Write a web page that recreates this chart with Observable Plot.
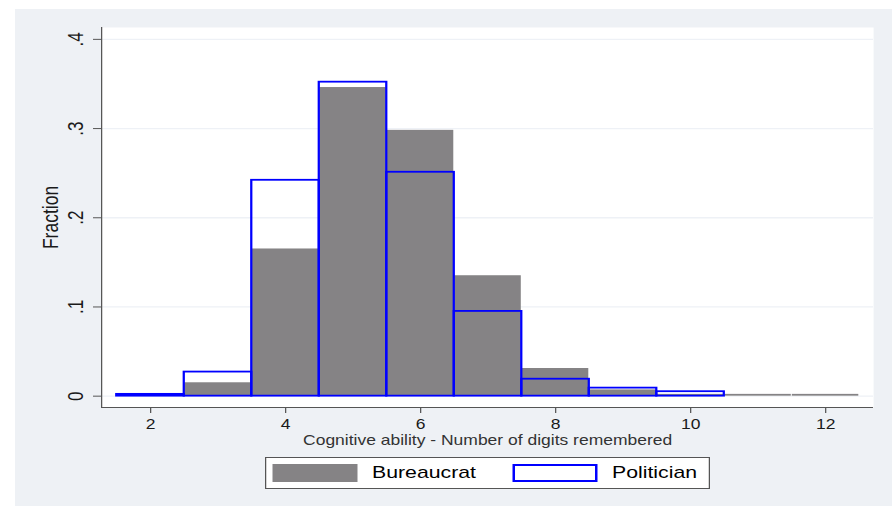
<!DOCTYPE html>
<html><head><meta charset="utf-8">
<script src="https://cdn.jsdelivr.net/npm/d3@7"></script>
<script src="https://cdn.jsdelivr.net/npm/@observablehq/plot@0.6"></script>
<style>
body{margin:0;background:#fff;}
#wrap{position:relative;width:713.6px;height:506px;transform:scaleX(1.25);transform-origin:0 0;font-family:"Liberation Sans",Arial,sans-serif;}
#panel{position:absolute;left:12px;top:9px;width:701.6px;height:497px;background:#eef1f5;}
#chart{position:absolute;left:0;top:0;}
#lgbox{position:absolute;left:212px;top:457px;width:356px;height:32px;box-sizing:border-box;border:1px solid #555;background:#fff;}
.sw{position:absolute;top:464px;width:67.2px;height:18px;box-sizing:border-box;}
.lt{position:absolute;top:464px;font-size:17px;line-height:18px;color:#000;white-space:nowrap;}
</style></head><body>
<div id="wrap"><div id="panel"></div><div id="chart"></div><div id="lgbox"></div></div>
<script>
const digits = [2, 3, 4, 5, 6, 7, 8, 9, 10, 11, 12];
const bureaucrat = [0.001, 0.015, 0.165, 0.346, 0.298, 0.135, 0.031, 0.007, 0.002, 0.002, 0.002];
const politician = [0.002, 0.027, 0.242, 0.352, 0.251, 0.095, 0.019, 0.009, 0.005, 0, 0];
const seriesNames = ["Bureaucrat", "Politician"];
const xTicks = [2, 4, 6, 8, 10, 12];
const yTicks = [0, 0.1, 0.2, 0.3, 0.4];
const yTickLabels = ["0", ".1", ".2", ".3", ".4"];
const xTitle = "Cognitive ability - Number of digits remembered";
const yTitle = "Fraction";

const gray = "#858385", blue = "#0000ff";
const rows = digits.map((d, i) => ({digit: d, bureaucrat: bureaucrat[i], politician: politician[i]}));
const xDomain = [1.274, 12.71], yDomain = [-0.0127, 0.4133];
const W = 713.6;

const chart = Plot.plot({
  width: W, height: 450,
  marginLeft: 80.8, marginRight: W - 698.4, marginTop: 27, marginBottom: 43,
  style: {background: "transparent", fontFamily: "Liberation Sans, Arial, sans-serif", color: "#1a1a1a", overflow: "visible"},
  x: {domain: xDomain},
  y: {domain: yDomain},
  marks: [
    Plot.frame({fill: "white", stroke: "none"}),
    Plot.ruleY(yTicks, {stroke: "#eef1f6", strokeWidth: 1.3}),
    Plot.rect(rows, {x1: d => d.digit - 0.5, x2: d => d.digit + 0.5, y1: () => 0, y2: "bureaucrat", fill: gray, insetLeft: 0.4, insetRight: 0.4}),
    Plot.rect(rows.filter(d => d.politician > 0), {x1: d => d.digit - 0.5, x2: d => d.digit + 0.5, y1: () => 0, y2: "politician", fill: "none", stroke: blue, strokeWidth: 1.8}),
    Plot.ruleX([xDomain[0]], {stroke: "#555"}),
    Plot.ruleY([yDomain[0]], {stroke: "#555"}),
    Plot.axisX(xTicks, {tickSize: 6, tickPadding: 6, fontSize: 14, stroke: "#555", fill: "#1a1a1a", label: null}),
    Plot.axisY(yTicks, {tickSize: 6.4, tickFormat: () => "", stroke: "#555", label: null}),
    Plot.text(yTicks, {x: () => xDomain[0], y: d => d, text: (d, i) => yTickLabels[i], rotate: -90, dx: -20, fontSize: 17, textAnchor: "middle", lineAnchor: "middle", fill: "#1a1a1a"}),
    Plot.text([yTitle], {frameAnchor: "left", rotate: -90, dx: -40.8, fontSize: 17.5, textAnchor: "middle", lineAnchor: "middle", fill: "#1a1a1a"}),
    Plot.text([xTitle], {frameAnchor: "bottom", dy: 33, fontSize: 14, textAnchor: "middle", lineAnchor: "middle", fill: "#333"})
  ]
});
document.getElementById("chart").appendChild(chart);

// legend
const wrap = document.getElementById("wrap");
const legend = [
  {name: seriesNames[0], sw: 218.4, tx: 297.6, style: `background:${gray};`},
  {name: seriesNames[1], sw: 410.4, tx: 489.6, style: `background:#fff;border:2px solid ${blue};`}
];
for (const it of legend) {
  const s = document.createElement("div");
  s.className = "sw"; s.style.cssText = it.style; s.style.left = it.sw + "px";
  wrap.appendChild(s);
  const t = document.createElement("div");
  t.className = "lt"; t.style.left = it.tx + "px"; t.textContent = it.name;
  wrap.appendChild(t);
}
</script>
</body></html>
